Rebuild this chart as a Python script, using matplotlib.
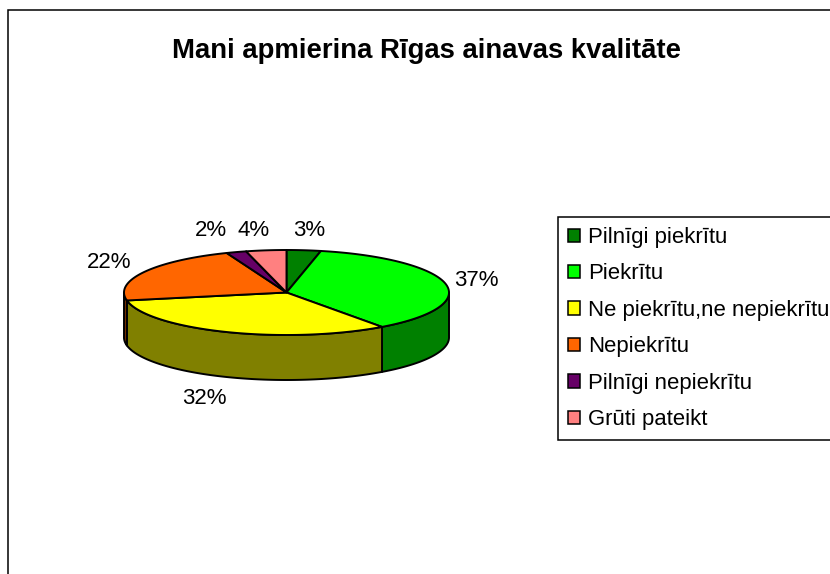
import matplotlib
matplotlib.use("Agg")
import matplotlib.pyplot as plt
from matplotlib.patches import Polygon, Patch, Rectangle

import numpy as np

plt.rcParams["font.family"] = ["Liberation Sans", "DejaVu Sans"]

title = "Mani apmierina Rīgas ainavas kvalitāte"
categories = ["Pilnīgi piekrītu", "Piekrītu", "Ne piekrītu,ne nepiekrītu",
              "Nepiekrītu", "Pilnīgi nepiekrītu", "Grūti pateikt"]
values = [3.4, 36.6, 32, 22, 2, 4]
top_colors = ["#008000", "#00FF00", "#FFFF00", "#FF6600", "#660066", "#FF8080"]
side_colors = ["#004000", "#008000", "#808000", "#803300", "#330033", "#804040"]
label_pos = [(309, 231), (476, 280), (204, 399), (109, 263), (211, 231), (254, 231)]

cx, cy, rx, ry, depth = 286.5, 292.5, 162.5, 42.5, 45

fig = plt.figure(figsize=(8.3, 5.74), dpi=100)
ax = fig.add_axes([0, 0, 1, 1])
ax.set_xlim(0, 830)
ax.set_ylim(574, 0)
ax.axis("off")

# chart frame runs off the right and bottom of the picture
ax.add_patch(Rectangle((8, 10), 900, 700, fc="white", ec="black", lw=1.1))


def rim(a, b):
    th = np.radians(np.linspace(a, b, max(int(abs(b - a)) * 2, 2)))
    return cx + rx * np.sin(th), cy - ry * np.cos(th)


edges = np.cumsum([0] + values) * 3.6

# side wall, only the front half of the ellipse shows
for i in range(len(values)):
    a = max(edges[i], 90)
    b = min(edges[i + 1], 270)
    if a >= b:
        continue
    x, y = rim(a, b)
    pts = list(zip(x, y)) + list(zip(x[::-1], y[::-1] + depth))
    ax.add_patch(Polygon(pts, fc=side_colors[i], ec="black", lw=1.4, joinstyle="round"))

# top face
for i in range(len(values)):
    x, y = rim(edges[i], edges[i + 1])
    pts = [(cx, cy)] + list(zip(x, y))
    ax.add_patch(Polygon(pts, fc=top_colors[i], ec="black", lw=1.4, joinstyle="round"))

for v, (lx, ly) in zip(values, label_pos):
    ax.text(lx, ly, "%.0f%%" % v, fontsize=16, ha="center", va="center")

ax.text(426, 51, title, fontsize=19.8, fontweight="bold", ha="center", va="center")

handles = [Patch(fc=c, ec="black", lw=1.1) for c in top_colors]
leg = ax.legend(handles, categories, loc="upper left", bbox_to_anchor=(558 / 830, 1 - 217 / 574),
                fontsize=15.9, frameon=True, fancybox=False, framealpha=1, edgecolor="black",
                handlelength=0.54, handleheight=0.54, handletextpad=0.36,
                labelspacing=0.7, borderpad=0.45, borderaxespad=0)
leg.get_frame().set_linewidth(1.1)

fig.savefig("out.png", dpi=100)
